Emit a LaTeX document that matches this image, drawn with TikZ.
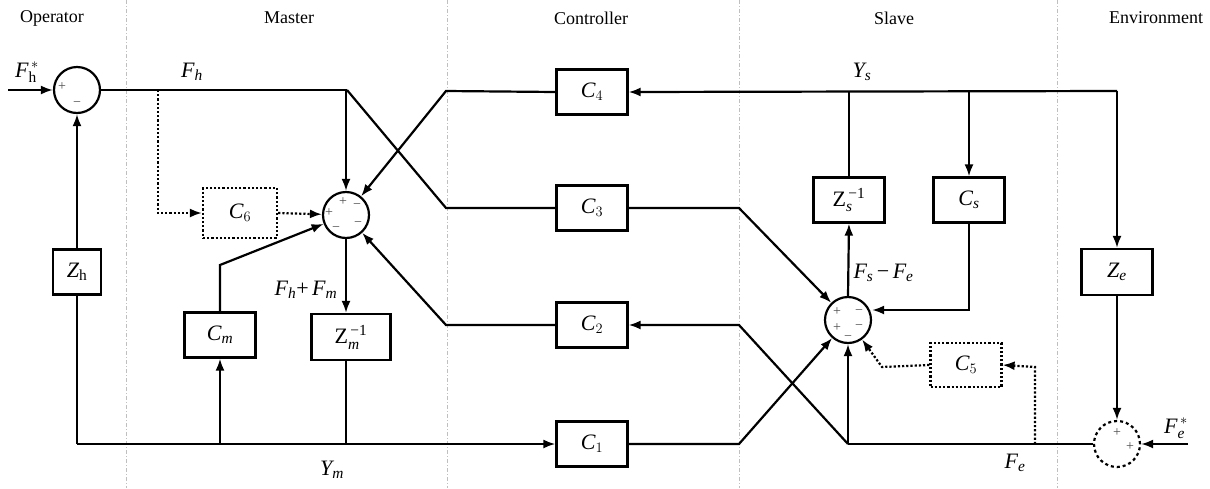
\documentclass[tikz,border=0pt]{standalone}
\usepackage{amsmath}
\usepackage[no-math]{fontspec}
\setmainfont{Liberation Serif}
\usetikzlibrary{arrows.meta}
\newcommand\vi[1]{\text{\itshape #1}}
\begin{document}
\begin{tikzpicture}[x=1pt,y=-1pt,
  every node/.style={font=\fontsize{22}{26}\selectfont},
  blk/.style={draw, line width=2.2pt, minimum width=71pt, minimum height=45pt, inner sep=0pt},
  dblk/.style={blk, dotted},
  sumj/.style={draw, circle, line width=2.2pt, minimum size=46pt, inner sep=0pt},
  wire/.style={line width=2.2pt},
  arr/.style={wire, -{Latex[length=12pt,width=9pt]}},
  darr/.style={arr, dotted},
  sgn/.style={font=\fontsize{14}{15}\selectfont, text=black!70, inner sep=0pt},
  hdr/.style={font=\fontsize{18}{21}\selectfont},
  sepl/.style={gray!50, line width=0.7pt, dash pattern=on 4pt off 2pt on 1pt off 2pt}
]
\useasboundingbox (0,0) rectangle (1210,488);

% separators
\foreach \x in {126,447,739,1057} \draw[sepl] (\x,0) -- (\x,488);

% headers
\node[hdr] (hOp) at (52,18) {Operator};
\node[hdr] (hMa) at (289,18) {Master};
\node[hdr] (hCo) at (591,18) {Controller};
\node[hdr] (hSl) at (894,18) {Slave};
\node[hdr] (hEn) at (1156,18) {Environment};

% junctions
\node[sumj] (sumO) at (77,90) {};
\node[sumj] (sumM) at (346,215) {};
\node[sumj] (sumS) at (848,320) {};
\node[sumj, dashed] (sumE) at (1117,444) {};

% blocks
\node[blk] (C4) at (592,92) {$\vi{C}_4$};
\node[blk] (C3) at (592,208) {$\vi{C}_3$};
\node[blk] (C2) at (592,325) {$\vi{C}_2$};
\node[blk] (C1) at (592,444) {$\vi{C}_1$};
\node[dblk, minimum width=74pt, minimum height=50pt] (C6) at (240,213) {$\vi{C}_6$};
\node[blk] (Cm) at (220,335) {$\vi{C}_{\vi{m}}$};
\node[blk, minimum width=79pt, minimum height=46pt] (Zm) at (351,337) {$\text{Z}_{\vi{m}}^{\,\text{−1}}$};
\node[blk, minimum width=48pt] (Zh) at (77,272) {$\vi{Z}_{\text{h}}$};
\node[blk] (Zs) at (849,200) {$\text{Z}_{\vi{s}}^{\,\text{−1}}$};
\node[blk] (Cs) at (969,200) {$\vi{C}_{\vi{s}}$};
\node[blk, minimum height=46pt] (Ze) at (1117,272) {$\vi{Z}_{\vi{e}}$};
\node[dblk, minimum height=44pt] (C5) at (966,365) {$\vi{C}_5$};

% helper coordinates
\coordinate (in1) at (8,90);
\coordinate (fhE) at (347,90);
\coordinate (fhV) at (346,90);
\coordinate (dotB) at (158,90);
\coordinate (dotC) at (158,213);
\coordinate (c4L) at (446,91);
\coordinate (c3L) at (446,208);
\coordinate (c2L) at (446,325);
\coordinate (c3R) at (739,208);
\coordinate (c2R) at (739,325);
\coordinate (c1R) at (739,444);
\coordinate (ysR) at (1117,91);
\coordinate (zsT) at (849,91);
\coordinate (csT) at (969,91);
\coordinate (csC) at (969,310);
\coordinate (envL) at (848,444);
\coordinate (c5B) at (1035,444);
\coordinate (c5C) at (1035,367);
\coordinate (c5D) at (882,367);
\coordinate (fein) at (1188,444);
\coordinate (blL) at (77,444);
\coordinate (cmB) at (220,444);
\coordinate (zmB) at (346,444);
\coordinate (cmT) at (220,265);

% operator
\draw[arr] (in1) -- (sumO);
\draw[wire] (sumO.east) -- (fhE);
\draw[arr] (Zh.north) -- (sumO.south);
\draw[wire] (blL) -- (Zh.south);

% master
\draw[darr] (dotB) -- (dotC) -- (C6.west);
\draw[darr] (C6.east) -- (sumM);
\draw[arr] (fhV) -- (sumM.north);
\draw[wire] (fhE) -- (c3L) -- (C3.west);
\draw[arr] (C4.west) -- (c4L) -- (sumM);
\draw[arr] (C2.west) -- (c2L) -- (sumM);
\draw[arr] (Cm.north) -- (cmT) -- (sumM);
\draw[arr] (sumM.south) -- (sumM.south |- Zm.north);
\draw[wire] (sumM.south |- Zm.south) -- (zmB);
\draw[arr] (cmB) -- (Cm.south);
\draw[arr] (blL) -- (C1.west);

% controller to slave
\draw[arr] (C3.east) -- (c3R) -- (sumS);
\draw[arr] (C1.east) -- (c1R) -- (sumS);
\draw[arr] (envL) -- (c2R) -- (C2.east);

% slave
\draw[arr] (ysR) -- (C4.east);
\draw[wire] (zsT) -- (Zs.north);
\draw[arr] (sumS.north) -- (Zs.south);
\draw[arr] (csT) -- (Cs.north);
\draw[arr] (Cs.south) -- (csC) -- (sumS.east |- csC);
\draw[arr] (envL) -- (sumS.south);
\draw[darr] (c5B) -- (c5C) -- (C5.east);
\draw[darr] (C5.west) -- (c5D) -- (sumS);

% environment
\draw[arr] (ysR) -- (Ze.north);
\draw[arr] (Ze.south) -- (sumE.north);
\draw[arr] (fein) -- (sumE.east);
\draw[wire] (sumE.west) -- (envL);

% signs
\node[sgn] (sO1) at (62,87) {+};
\node[sgn] (sO2) at (77,104) {−};
\node[sgn] (sM1) at (343,202) {+};
\node[sgn] (sM2) at (357,206) {−};
\node[sgn] (sM3) at (329,213) {+};
\node[sgn] (sM4) at (336,229) {−};
\node[sgn] (sM5) at (358,224) {−};
\node[sgn] (sS1) at (837,312) {+};
\node[sgn] (sS2) at (859,312) {−};
\node[sgn] (sS3) at (837,328) {+};
\node[sgn] (sS4) at (859,327) {−};
\node[sgn] (sS5) at (848,338) {−};
\node[sgn] (sE1) at (1117,433) {+};
\node[sgn] (sE2) at (1130,447) {+};

% signal labels
\node (lFhs) at (27,72) {$\vi{F}_{\text{h}}^{\,*}$};
\node (lFh) at (192,72) {$\vi{F}_{\vi{h}}$};
\node (lYs) at (862,72) {$\vi{Y}_{\vi{s}}$};
\node[anchor=west] (lFsFe) at (850,273) {$\vi{F}_{\vi{s}}\,\text{−}\,\vi{F}_{\vi{e}}$};
\node (lFhFm) at (306,290) {$\vi{F}_{\vi{h}}\text{+}\,\vi{F}_{\vi{m}}$};
\node (lYm) at (332,470) {$\vi{Y}_{\vi{m}}$};
\node (lFe) at (1015,463) {$\vi{F}_{\vi{e}}$};
\node (lFes) at (1176,428) {$\vi{F}_{\vi{e}}^{\,*}$};
\end{tikzpicture}
\end{document}
